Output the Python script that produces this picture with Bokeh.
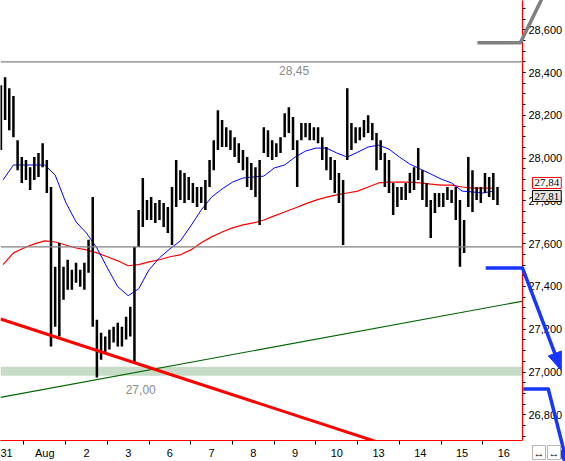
from bokeh.plotting import figure
from bokeh.models import Span, BoxAnnotation, Label, FixedTicker, NumeralTickFormatter, Range1d
from bokeh.embed import file_html
from bokeh.resources import INLINE
import numpy as np
import math

# ---------------- data ----------------
day_labels = ["31", "Aug", "2", "3", "6", "7", "8", "9", "10", "13", "14", "15", "16"]

bar_high = [28341, 28378,
            28327, 28290, 28084, 28005, 27991, 27958, 28005, 28024, 28070, 27991,
            27865, 27492, 27604, 27492, 27525, 27478, 27511, 27478, 27511, 27618,
            27818, 27245, 27184, 27166, 27198, 27212, 27231, 27212, 27259, 27305,
            27585, 27758, 27907, 27804, 27818, 27790, 27804, 27790, 27772, 27865,
            27991, 27944, 27930, 27912, 27884, 27865, 27865, 27898, 27991, 28084,
            28224, 28178, 28145, 28131, 28098, 28070, 28038, 28005, 27977, 27958,
            27991, 28145, 28131, 28084, 28070, 28098, 28210, 28238, 28192, 28084,
            28164, 28164, 28164, 28145, 28145, 28098, 28052, 28005, 27991, 27930,
            27898, 28327, 28164, 28145, 28145, 28178, 28201, 28164, 28117, 28084,
            28024, 27991, 27884, 27865, 27865, 27884, 27930, 27958, 28047, 27944,
            27884, 27804, 27837, 27837, 27837, 27865, 27851, 27865, 27804, 27711,
            28005, 27944, 27865, 27865, 27930, 27912, 27930, 27865]
bar_low = [28038, 28178,
           28131, 28098, 27944, 27884, 27898, 27851, 27898, 27912, 27958, 27837,
           27119, 27212, 27166, 27338, 27385, 27385, 27418, 27399, 27385, 27464,
           27212, 26974, 27058, 27091, 27105, 27138, 27119, 27119, 27152, 27166,
           27044, 27585, 27678, 27711, 27711, 27697, 27711, 27678, 27650, 27594,
           27772, 27804, 27790, 27804, 27790, 27772, 27790, 27758, 27865, 27944,
           28038, 28052, 28052, 28038, 28005, 27977, 27944, 27865, 27851, 27818,
           27688, 28024, 28005, 27991, 28005, 28024, 28098, 28117, 28038, 27865,
           28084, 28098, 28084, 28084, 28070, 27991, 27944, 27898, 27837, 27790,
           27594, 27991, 28038, 28070, 28084, 28098, 28117, 28084, 27944, 27991,
           27865, 27837, 27734, 27772, 27804, 27804, 27837, 27851, 27898, 27804,
           27772, 27627, 27744, 27772, 27772, 27804, 27790, 27711, 27492, 27557,
           27772, 27748, 27804, 27790, 27837, 27818, 27804, 27781]
bar_first_time = -0.05      # in trading days (0 = 31 Jul)
bars_per_day = 10

ma_step = 0.25
ma_blue = [27898, 27968, 27968, 27968, 27968, 27921, 27795, 27702, 27650, 27580,
           27487, 27399, 27357, 27389, 27478, 27534, 27576, 27613, 27683, 27758,
           27818, 27856, 27888, 27907, 27912, 27916, 27954, 27968, 28005, 28033,
           28047, 28047, 28024, 28005, 28028, 28052, 28061, 28042, 28005, 27972,
           27949, 27926, 27902, 27884, 27846, 27842, 27837, 27846]
ma_red = [27502, 27557, 27580, 27599, 27613, 27608, 27594, 27580, 27571, 27557,
          27539, 27520, 27497, 27502, 27515, 27525, 27539, 27548, 27571, 27604,
          27632, 27655, 27674, 27688, 27697, 27711, 27730, 27748, 27767, 27786,
          27804, 27818, 27828, 27837, 27846, 27865, 27884, 27888, 27888, 27888,
          27884, 27879, 27874, 27874, 27865, 27860, 27860, 27860]

resistance_level = 28450
support_level = 27585
support_zone = [26983, 27025]
level_texts = ["28,45", "27,00"]
level_text_pos_t = [6.975, 3.30]
level_text_pos_v = [28411, 26918]

red_trend_t = [-0.06, 8.985]
red_trend_v = [27248, 26672]
green_trend_t = [-0.06, 12.5]
green_trend_v = [26882, 27333]

proj1_t = [11.568, 12.449, 13.36]
proj1_v = [27486, 27486, 27017]
proj2_t = [12.466, 13.066, 13.53]
proj2_v = [26921, 26921, 26564]
proj_up_t = [11.37, 12.40, 13.0]
proj_up_v = [28540, 28540, 28780]

tag_texts = ["27,84", "27,81"]
tag_v = [27884, 27823]

y_major = list(range(26800, 28601, 200))
y_minor = list(range(26650, 28751, 50))

# ---------------- figure ----------------
W, H = 565, 461
AXIS_W, AXIS_H = 44, 20          # expected size of the right / bottom axis panels
FRAME_W, FRAME_H = W - AXIS_W, H - AXIS_H
X0, X1 = -0.06, 12.449
Y0, Y1 = 26680, 28737

FONT = "Liberation Sans"
p = figure(width=W, height=H, output_backend="svg", toolbar_location=None,
           x_range=Range1d(X0, X1), y_range=Range1d(Y0, Y1),
           y_axis_location="right", min_border_left=0, min_border_top=0,
           min_border_right=0, min_border_bottom=0, outline_line_color=None,
           background_fill_color="white", border_fill_color="white")
p.xgrid.visible = False
p.ygrid.visible = False

# support zone & levels
p.add_layout(BoxAnnotation(bottom=support_zone[0], top=support_zone[1],
                           fill_color="#c6dcc6", fill_alpha=1.0, line_color=None, level="underlay"))
p.add_layout(Span(location=resistance_level, dimension="width", line_color="#808080", line_width=1.3))
p.add_layout(Span(location=support_level, dimension="width", line_color="#808080", line_width=1.3))

for txt, tt, vv in zip(level_texts, level_text_pos_t, level_text_pos_v):
    p.add_layout(Label(x=tt, y=vv, text=txt, text_align="center", text_baseline="middle",
                       text_color="#8a8a8a", text_font=FONT, text_font_size="12px"))

# moving averages
ma_t = np.arange(len(ma_blue)) * ma_step
p.line(ma_t, ma_red, line_color="#ff0000", line_width=1.2)
p.line(ma_t, ma_blue, line_color="#0000ff", line_width=1.0)

# price bars
bar_t = bar_first_time + np.arange(len(bar_high)) / bars_per_day
p.segment(x0=bar_t, y0=bar_low, x1=bar_t, y1=bar_high, line_color="black", line_width=2.5)

# trend lines
p.line(green_trend_t, green_trend_v, line_color="#006400", line_width=1.2)
p.line(red_trend_t, red_trend_v, line_color="#ff0000", line_width=3)


# projections (overlay level so they may run over the price axis)
def to_screen(t, v):
    return (t - X0) / (X1 - X0) * FRAME_W, (Y1 - v) / (Y1 - Y0) * FRAME_H


def to_data(sx, sy):
    return X0 + sx / FRAME_W * (X1 - X0), Y1 - sy / FRAME_H * (Y1 - Y0)


BLUE = "#1636ff"
HEAD_LEN, HEAD_HALF = 16, 7
for ts, vs, col, head in [(proj1_t, proj1_v, BLUE, True), (proj2_t, proj2_v, BLUE, True),
                          (proj_up_t, proj_up_v, "#808080", False)]:
    p.line(ts, vs, line_color=col, line_width=3.5, line_join="round", level="overlay")
    if head:
        ax, ay = to_screen(ts[1], vs[1])
        bx, by = to_screen(ts[2], vs[2])
        L = math.hypot(bx - ax, by - ay)
        ux, uy = (bx - ax) / L, (by - ay) / L
        cx, cy = bx - ux * HEAD_LEN, by - uy * HEAD_LEN
        pts = [(bx + ux * 2, by + uy * 2), (cx - uy * HEAD_HALF, cy + ux * HEAD_HALF),
               (cx + uy * HEAD_HALF, cy - ux * HEAD_HALF)]
        tri = [to_data(sx, sy) for sx, sy in pts]
        p.patch([q[0] for q in tri], [q[1] for q in tri], fill_color=col, line_color=col,
                level="overlay")

# price tags over the axis
p.text(x=[X1, X1], y=tag_v, text=tag_texts, x_offset=10, text_baseline="middle",
       text_font=FONT, text_font_size="11px", text_color="black",
       border_line_color=["red", "black"], background_fill_color=["white", "#e2e2e2"],
       padding=2, level="overlay")
p.text(x=[X1, X1], y=[Y0, Y0], text=["↔", "↔"], x_offset=[10, 25], y_offset=12,
       text_baseline="middle", text_font="DejaVu Sans", text_font_size="11px", text_color="black",
       border_line_color="#b4b4b4", background_fill_color="white", padding=1, level="overlay")

# axes
xa = p.xaxis[0]
xa.ticker = FixedTicker(ticks=list(range(len(day_labels))),
                        minor_ticks=[i + 0.5 for i in range(-1, len(day_labels))])
xa.major_label_overrides = {i: lab for i, lab in enumerate(day_labels)}
xa.axis_line_color = "red"
xa.axis_line_width = 1.2
xa.major_tick_line_color = None
xa.major_tick_out = 3
xa.major_tick_in = 0
xa.minor_tick_line_color = "black"
xa.minor_tick_out = 4
xa.minor_tick_in = 0
xa.major_label_standoff = 2
xa.major_label_text_font = FONT
xa.major_label_text_font_size = "11px"
xa.major_label_text_color = "black"

ya = p.yaxis[0]
ya.ticker = FixedTicker(ticks=y_major, minor_ticks=y_minor)
ya.formatter = NumeralTickFormatter(format="0,0")
ya.axis_line_color = "red"
ya.axis_line_width = 1.2
ya.major_tick_line_color = "black"
ya.major_tick_out = 3
ya.major_tick_in = 0
ya.minor_tick_line_color = "black"
ya.minor_tick_out = 3
ya.minor_tick_in = 0
ya.major_label_standoff = 3
ya.major_label_text_font = FONT
ya.major_label_text_font_size = "11px"
ya.major_label_text_color = "black"

open("out.html", "w").write(file_html(p, INLINE))
